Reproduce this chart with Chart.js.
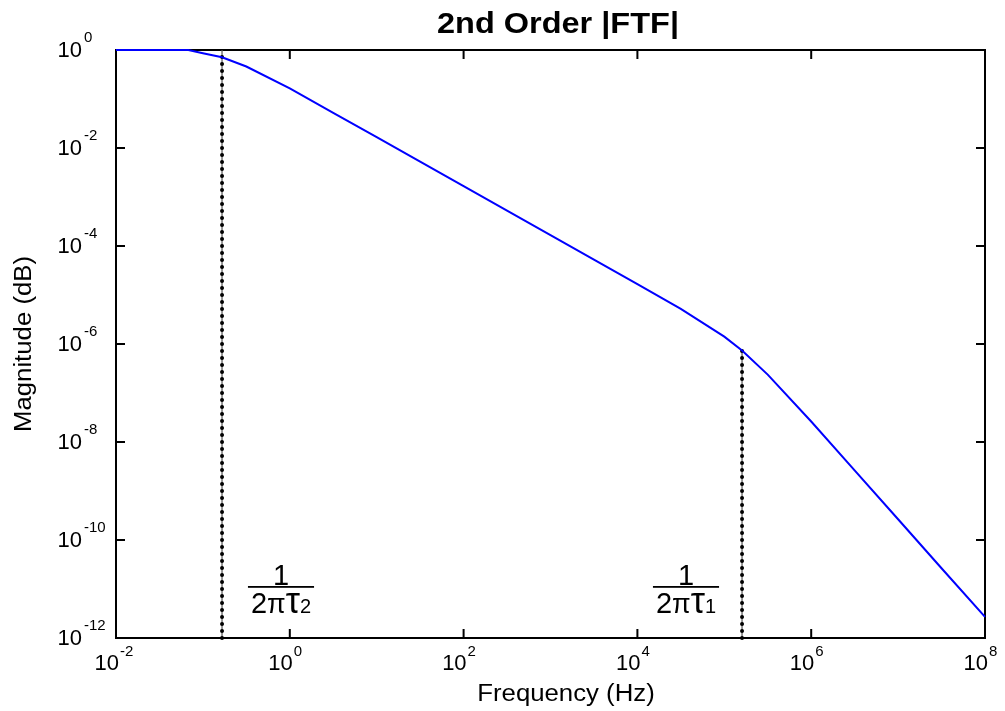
<!DOCTYPE html>
<html>
<head>
<meta charset="utf-8">
<script src="https://cdn.jsdelivr.net/npm/chart.js@4"></script>
<style>
  body { margin: 0; background: #fff; }
  canvas { display: block; }
</style>
</head>
<body>
<canvas id="ftfChart" width="1005" height="711"></canvas>
<script>
// frequency response
const FREQ = [1e-2, 0.068, 0.1, 0.166, 0.316, 1, 3.16, 10, 31.6, 100, 316, 1e3, 3.16e3, 1e4, 3.16e4, 1e5, 1.6e5, 3.16e5, 1e6, 3.16e6, 1e7, 3.16e7, 1e8];
const MAGNITUDE = [1.0, 1.0, 0.86, 0.71, 0.46, 0.164, 0.052, 0.0166, 5.25e-3, 1.66e-3, 5.25e-4, 1.66e-4, 5.25e-5, 1.66e-5, 5.2e-6, 1.41e-6, 7.4e-7, 2.37e-7, 2.62e-8, 2.63e-9, 2.65e-10, 2.65e-11, 2.7e-12];

// corner frequencies 1/(2*pi*tau2) and 1/(2*pi*tau1)
const CORNER_FREQ = [0.166, 1.6e5];
const CORNER_TOP = [1, 7.4e-7];
const CORNER_SUB = ["2", "1"];

const X_TICKS = [1e-2, 1e0, 1e2, 1e4, 1e6, 1e8];
const X_EXP = ["-2", "0", "2", "4", "6", "8"];
const Y_TICKS = [1e-12, 1e-10, 1e-8, 1e-6, 1e-4, 1e-2, 1e0];
const Y_EXP = ["-12", "-10", "-8", "-6", "-4", "-2", "0"];

const FONT = "'Liberation Sans', Arial, Helvetica, sans-serif";

function stretchedText(ctx, text, x, y, sx, rot) {
  ctx.save();
  ctx.translate(x, y);
  if (rot) ctx.rotate(rot);
  ctx.scale(sx, 1);
  ctx.fillText(text, 0, 0);
  ctx.restore();
}

function drawFraction(ctx, cx, sub) {
  ctx.save();
  ctx.fillStyle = "#000";
  ctx.textBaseline = "alphabetic";
  ctx.textAlign = "center";
  ctx.font = "29px " + FONT;
  ctx.fillText("1", cx, 585);

  const parts = [
    { t: "2", f: "29px " + FONT },
    { t: "\u03c0", f: "27px " + FONT },
    { t: "\u03c4", f: "36px " + FONT },
    { t: sub, f: "20px " + FONT }
  ];
  let w = 0;
  parts.forEach(p => { ctx.font = p.f; p.w = ctx.measureText(p.t).width; w += p.w; });
  let x = cx - w / 2;
  ctx.textAlign = "left";
  parts.forEach(p => { ctx.font = p.f; ctx.fillText(p.t, x, 613); x += p.w; });

  ctx.fillRect(cx - w / 2 - 3, 586, w + 6, 1.8);
  ctx.restore();
}

const frame = {
  id: "frame",
  beforeDatasetsDraw(chart) {
    const { ctx, chartArea: a, scales } = chart;
    ctx.save();
    ctx.strokeStyle = "#000";
    ctx.lineWidth = 2;
    ctx.strokeRect(a.left, a.top, a.right - a.left, a.bottom - a.top);
    ctx.beginPath();
    X_TICKS.forEach(v => {
      const px = scales.x.getPixelForValue(v);
      ctx.moveTo(px, a.bottom); ctx.lineTo(px, a.bottom - 9);
      ctx.moveTo(px, a.top); ctx.lineTo(px, a.top + 9);
    });
    Y_TICKS.forEach(v => {
      const py = scales.y.getPixelForValue(v);
      ctx.moveTo(a.left, py); ctx.lineTo(a.left + 9, py);
      ctx.moveTo(a.right, py); ctx.lineTo(a.right - 9, py);
    });
    ctx.stroke();
    ctx.restore();
  },
  afterDraw(chart) {
    const { ctx, scales } = chart;
    ctx.save();
    ctx.fillStyle = "#000";
    ctx.textBaseline = "middle";

    X_TICKS.forEach((v, i) => {
      const px = scales.x.getPixelForValue(v);
      ctx.font = "22px " + FONT;
      ctx.textAlign = "right";
      ctx.fillText("10", px + 3, 664);
      ctx.font = "15px " + FONT;
      ctx.textAlign = "left";
      ctx.fillText(X_EXP[i], px + 4, 652);
    });

    Y_TICKS.forEach((v, i) => {
      const py = scales.y.getPixelForValue(v);
      ctx.font = "22px " + FONT;
      ctx.textAlign = "right";
      ctx.fillText("10", 82, py + 1);
      ctx.font = "15px " + FONT;
      ctx.textAlign = "left";
      ctx.fillText(Y_EXP[i], 84, py - 12);
    });

    ctx.textAlign = "center";
    ctx.font = "bold 29px " + FONT;
    stretchedText(ctx, "2nd Order |FTF|", 558, 25, 1.12);
    ctx.font = "23px " + FONT;
    stretchedText(ctx, "Frequency (Hz)", 566, 695, 1.12);
    stretchedText(ctx, "Magnitude (dB)", 25, 344, 1.12, -Math.PI / 2);
    ctx.restore();

    drawFraction(ctx, 281, CORNER_SUB[0]);
    drawFraction(ctx, 686, CORNER_SUB[1]);
  }
};

const cornerSets = [];
CORNER_FREQ.forEach((f, i) => {
  const pts = [{ x: f, y: 1e-12 }, { x: f, y: CORNER_TOP[i] }];
  cornerSets.push({
    data: pts,
    borderColor: "#000",
    borderWidth: 4,
    borderDash: [0, 7],
    borderCapStyle: "round",
    pointRadius: 0,
    clip: false
  });
  cornerSets.push({
    data: pts,
    borderColor: "#555",
    borderWidth: 1.2,
    pointRadius: 0
  });
});

new Chart(document.getElementById("ftfChart"), {
  type: "line",
  data: {
    datasets: [
      {
        data: FREQ.map((f, i) => ({ x: f, y: MAGNITUDE[i] })),
        borderColor: "#0000ff",
        borderWidth: 2,
        pointRadius: 0,
        tension: 0,
        clip: false
      },
      ...cornerSets
    ]
  },
  options: {
    responsive: false,
    animation: false,
    devicePixelRatio: 1,
    layout: { padding: { left: 116, right: 20, top: 50, bottom: 73 } },
    plugins: { legend: { display: false }, tooltip: { enabled: false }, title: { display: false } },
    scales: {
      x: { type: "logarithmic", min: 1e-2, max: 1e8, display: false },
      y: { type: "logarithmic", min: 1e-12, max: 1, display: false }
    }
  },
  plugins: [frame]
});
</script>
</body>
</html>
